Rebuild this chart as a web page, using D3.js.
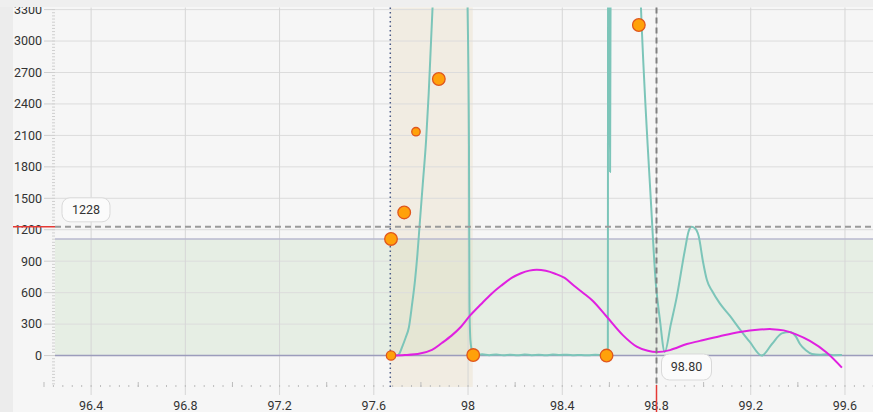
<!DOCTYPE html>
<html>
<head>
<meta charset="utf-8">
<script src="https://cdn.jsdelivr.net/npm/d3@7"></script>
<style>
  html, body { margin: 0; padding: 0; background: #f6f6f6; }
  svg { display: block; font-family: Roboto, "Noto Sans", sans-serif; }
</style>
</head>
<body>
<svg id="chart" width="873" height="412"></svg>
<script>
// ---- data ----
const xTickValues = [96.4, 96.8, 97.2, 97.6, 98, 98.4, 98.8, 99.2, 99.6];
const xTickLabels = ["96.4", "96.8", "97.2", "97.6", "98", "98.4", "98.8", "99.2", "99.6"];
const yTickValues = [0, 300, 600, 900, 1200, 1500, 1800, 2100, 2400, 2700, 3000, 3300];
const yTickLabels = ["0", "300", "600", "900", "1200", "1500", "1800", "2100", "2400", "2700", "3000", "3300"];

// measured signal (teal)
const signalX = [97.680, 97.698, 97.710, 97.720, 97.735, 97.749, 97.762, 97.775, 97.785, 97.795,
  97.808, 97.822, 97.833, 97.843, 97.851, 97.870, 97.990, 97.998, 98.004, 98.006,
  98.010, 98.016, 98.021, 98.034, 98.06, 98.09, 98.12, 98.15, 98.18, 98.21,
  98.24, 98.27, 98.30, 98.33, 98.36, 98.39, 98.42, 98.45, 98.48, 98.51,
  98.54, 98.57, 98.5935, 98.5945, 98.603, 98.606, 98.65, 98.72, 98.734, 98.776,
  98.797, 98.814, 98.835, 98.861, 98.886, 98.920, 98.937, 98.949, 98.963, 98.979,
  98.997, 99.014, 99.035, 99.068, 99.111, 99.154, 99.196, 99.247, 99.290, 99.332,
  99.366, 99.392, 99.409, 99.434, 99.460, 99.493, 99.52, 99.55, 99.587];
const signalY = [0, 2, 25, 80, 170, 270, 480, 720, 960, 1260,
  1640, 2055, 2500, 3000, 3400, 4200, 4200, 3320, 2000, 500,
  150, 50, 20, 5, 12, 4, 10, 3, 8, 2,
  9, 4, 7, 2, 10, 5, 8, 3, 6, 2,
  7, 3, 0, 4200, 1750, 4200, 4500, 4200, 3320, 1480,
  690, 350, 35, 300, 560, 1000, 1190, 1228, 1215, 1140,
  900, 720, 620, 500, 380, 250, 130, 0, 110, 212,
  225, 180, 110, 50, 15, 8, 12, 4, 5];

// fitted curve (magenta)
const fitX = [97.673, 97.732, 97.796, 97.847, 97.889, 97.930, 97.970, 98.010, 98.055, 98.100,
  98.140, 98.185, 98.225, 98.260, 98.292, 98.330, 98.370, 98.410, 98.450, 98.490,
  98.530, 98.589, 98.657, 98.716, 98.763, 98.801, 98.857, 98.929, 98.984, 99.069,
  99.154, 99.239, 99.290, 99.340, 99.390, 99.451, 99.522, 99.587];
const fitY = [0, 5, 20, 55, 120, 190, 275, 385, 490, 590,
  665, 740, 785, 810, 818, 808, 780, 740, 665, 595,
  520, 370, 195, 85, 45, 33, 52, 110, 140, 185,
  225, 248, 252, 240, 205, 140, 30, -115];

// picked peaks
const peakX = [97.673, 97.673, 97.729, 97.779, 97.876, 98.022, 98.588, 98.725];
const peakY = [0, 1112, 1365, 2135, 2638, 5, 0, 3153];
const peakWeight = [0.55, 1, 1, 0.45, 1, 1, 1, 1];

// reference regions and cursor
const bandLow = 0, bandHigh = 1112;
const windowStart = 97.67, windowEnd = 98.02;
const markerX = 97.67;
const cursorX = 98.80, cursorY = 1228;

// ---- layout ----
const W = 873, H = 412;
const plotL = 52, plotR = 873, plotT = 7.5, plotB = 387;

const svg = d3.select("#chart");
const x = d3.scaleLinear().domain([96.234, 99.719]).range([plotL, plotR]);
const y = d3.scaleLinear().domain([-300, 3320]).range([plotB, plotT]);
const r = d3.scaleSqrt().domain([0, 1]).range([0, 6.3]);

svg.append("rect").attr("width", W).attr("height", H).attr("fill", "#f6f6f6");
svg.append("rect").attr("width", 13).attr("height", H).attr("fill", "#ececec");

const defs = svg.append("defs");
defs.append("clipPath").attr("id", "plot-clip")
  .append("rect").attr("x", plotL).attr("y", plotT)
  .attr("width", plotR - plotL).attr("height", plotB - plotT);

// shaded regions
svg.append("rect")
  .attr("x", plotL + 3).attr("y", y(bandHigh))
  .attr("width", plotR - plotL - 3).attr("height", y(bandLow) - y(bandHigh))
  .attr("fill", "#e6eee4");
svg.append("rect")
  .attr("x", x(windowStart)).attr("y", plotT)
  .attr("width", x(windowEnd) - x(windowStart)).attr("height", plotB - plotT)
  .attr("fill", "rgba(225,205,165,0.24)");

// grid
const grid = svg.append("g");
grid.append("g").selectAll("line").data(yTickValues).join("line")
  .attr("x1", plotL).attr("x2", plotR)
  .attr("y1", d => y(d)).attr("y2", d => y(d))
  .attr("stroke", "#dcdcdc").attr("stroke-width", 1);
grid.append("g").selectAll("line").data(xTickValues).join("line")
  .attr("x1", d => x(d)).attr("x2", d => x(d))
  .attr("y1", plotT).attr("y2", plotB + 8)
  .attr("stroke", "#d6d6d6").attr("stroke-width", 1);

// y axis ticks
const yMinor = d3.range(-270, 3320, 30);
svg.append("g").selectAll("line").data(yMinor).join("line")
  .attr("x1", plotL).attr("x2", plotL + 3)
  .attr("y1", d => y(d)).attr("y2", d => y(d))
  .attr("stroke", "#cfcfcf");
svg.append("g").selectAll("line").data(yTickValues).join("line")
  .attr("x1", plotL - 8).attr("x2", plotL)
  .attr("y1", d => y(d)).attr("y2", d => y(d))
  .attr("stroke", "#cfcfcf");
svg.append("g").selectAll("text").data(yTickValues).join("text")
  .attr("x", 42).attr("y", d => y(d)).attr("dy", "0.35em")
  .attr("text-anchor", "end").attr("font-size", 12.5).attr("fill", "#333")
  .text((d, i) => yTickLabels[i]);

// x axis ticks
const xMinor = d3.range(96.24, 99.72, 0.04);
svg.append("g").selectAll("line").data(xMinor).join("line")
  .attr("x1", d => x(d)).attr("x2", d => x(d))
  .attr("y1", plotB - 2).attr("y2", plotB)
  .attr("stroke", "#bdbdbd");
const xMid = d3.range(96.2, 99.72, 0.4);
svg.append("g").selectAll("line").data(xMid).join("line")
  .attr("x1", d => x(d)).attr("x2", d => x(d))
  .attr("y1", plotB - 5).attr("y2", plotB)
  .attr("stroke", "#bdbdbd");
svg.append("g").selectAll("text").data(xTickValues).join("text")
  .attr("x", d => x(d)).attr("y", 410)
  .attr("text-anchor", "middle").attr("font-size", 12.5).attr("fill", "#333")
  .text((d, i) => xTickLabels[i]);

// band edges
svg.append("line")
  .attr("x1", plotL + 3).attr("x2", plotR)
  .attr("y1", y(bandHigh)).attr("y2", y(bandHigh))
  .attr("stroke", "#b9b9cf").attr("stroke-width", 1.5);
svg.append("line")
  .attr("x1", plotL + 3).attr("x2", plotR)
  .attr("y1", y(bandLow)).attr("y2", y(bandLow))
  .attr("stroke", "#9c9cbc").attr("stroke-width", 1.5);

// marker line
svg.append("line")
  .attr("x1", x(markerX)).attr("x2", x(markerX))
  .attr("y1", plotT).attr("y2", plotB)
  .attr("stroke", "#4b5a86").attr("stroke-width", 1.5)
  .attr("stroke-dasharray", "1.5,3");

const plot = svg.append("g").attr("clip-path", "url(#plot-clip)");

plot.append("path")
  .datum(signalX.map((v, i) => [v, signalY[i]]))
  .attr("d", d3.line().x(d => x(d[0])).y(d => y(d[1])).curve(d3.curveMonotoneX))
  .attr("fill", "none")
  .attr("stroke", "#7cc5b9").attr("stroke-width", 2)
  .attr("stroke-linejoin", "round");

plot.append("path")
  .datum(fitX.map((v, i) => [v, fitY[i]]))
  .attr("d", d3.line().x(d => x(d[0])).y(d => y(d[1])).curve(d3.curveCatmullRom.alpha(0.5)))
  .attr("fill", "none")
  .attr("stroke", "#e020e0").attr("stroke-width", 2);

// peaks
plot.append("g").selectAll("circle")
  .data(peakX.map((v, i) => [v, peakY[i], peakWeight[i]])).join("circle")
  .attr("cx", d => x(d[0])).attr("cy", d => y(d[1])).attr("r", d => r(d[2]))
  .attr("fill", "#ffa10a").attr("stroke", "#e0561c").attr("stroke-width", 1.3);

// cursor
svg.append("line")
  .attr("x1", plotL + 3).attr("x2", plotR)
  .attr("y1", y(cursorY)).attr("y2", y(cursorY))
  .attr("stroke", "#9a9a9a").attr("stroke-width", 2).attr("stroke-dasharray", "6,4");
svg.append("line")
  .attr("x1", x(cursorX)).attr("x2", x(cursorX))
  .attr("y1", plotT).attr("y2", plotB)
  .attr("stroke", "#808080").attr("stroke-width", 2).attr("stroke-dasharray", "6,4");
svg.append("line")
  .attr("x1", 13).attr("x2", plotL + 3)
  .attr("y1", y(cursorY)).attr("y2", y(cursorY))
  .attr("stroke", "#e53935").attr("stroke-width", 1.5);
svg.append("line")
  .attr("x1", x(cursorX)).attr("x2", x(cursorX))
  .attr("y1", plotB - 2).attr("y2", H)
  .attr("stroke", "#e53935").attr("stroke-width", 1.5);

function tag(cx, cy, w, h, label) {
  const g = svg.append("g");
  g.append("rect")
    .attr("x", cx - w / 2).attr("y", cy - h / 2).attr("width", w).attr("height", h)
    .attr("rx", 8).attr("fill", "#fbfbfb").attr("stroke", "#d9d9d9");
  g.append("text")
    .attr("x", cx).attr("y", cy).attr("dy", "0.35em")
    .attr("text-anchor", "middle").attr("font-size", 12.5).attr("fill", "#333")
    .text(label);
}
tag(86, y(cursorY) - 17, 48, 24, d3.format("d")(cursorY));
tag(x(cursorX) + 30, 367, 50, 26, d3.format(".2f")(cursorX));

// top edge of the chart frame
svg.append("rect").attr("width", W).attr("height", 7).attr("fill", "#efefef");
</script>
</body>
</html>
